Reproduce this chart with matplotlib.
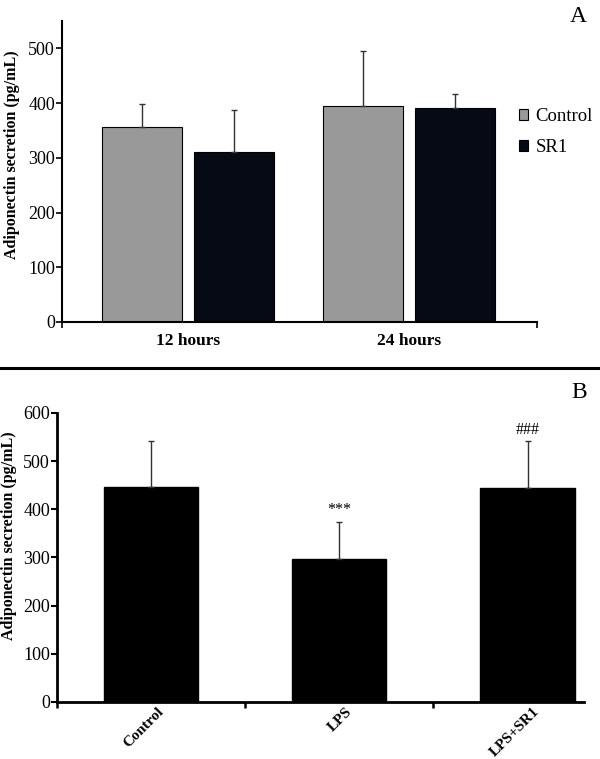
import matplotlib

matplotlib.use("Agg")

import matplotlib.pyplot as plt
import numpy as np
from matplotlib.lines import Line2D
from matplotlib.patches import Patch

# panel A
time_points = ["12 hours", "24 hours"]
control_mean = [356, 394]
control_err = [42, 101]
sr1_mean = [310, 391]
sr1_err = [77, 25]

# panel B
treatments = ["Control", "LPS", "LPS+SR1"]
treat_mean = [446, 297, 444]
treat_err = [95, 76, 97]
treat_marks = ["", "***", "###"]

plt.rcParams["font.family"] = ["Liberation Serif", "DejaVu Serif"]

fig = plt.figure(figsize=(6.0, 7.59), dpi=100)

err_kw = dict(ecolor="#333333", elinewidth=1.0, capsize=2.5, capthick=1.0)

# ---- panel A ----
ax_a = fig.add_axes([0.1033, 0.5758, 0.7917, 0.3965])
x = np.arange(len(time_points))
offset, width = 0.208, 0.362
ax_a.bar(x - offset, control_mean, width, color="#999999", edgecolor="black", linewidth=0.8,
         yerr=[np.zeros(len(x)), control_err], error_kw=err_kw, zorder=2)
ax_a.bar(x + offset, sr1_mean, width, color="#050a14", edgecolor="black", linewidth=0.8,
         yerr=[np.zeros(len(x)), sr1_err], error_kw=err_kw, zorder=2)
ax_a.set_xlim(-0.57, 1.58)
ax_a.set_ylim(0, 550)
ax_a.set_yticks(np.arange(0, 501, 100))
ax_a.set_xticks(x)
ax_a.set_xticklabels(time_points, fontsize=12.5, fontweight="bold")
ax_a.set_xticks([-0.57, 1.58], minor=True)
ax_a.tick_params(axis="x", which="major", length=0, pad=8)
ax_a.tick_params(axis="x", which="minor", length=4, width=1.2, direction="out")
ax_a.tick_params(axis="y", length=4, width=1.2, labelsize=13, pad=1)
ax_a.set_ylabel("Adiponectin secretion (pg/mL)", fontsize=11.5, fontweight="bold")
ax_a.yaxis.set_label_coords(-0.088, 0.555)
for side in ("top", "right"):
    ax_a.spines[side].set_visible(False)
for side in ("left", "bottom"):
    ax_a.spines[side].set_linewidth(1.5)

handles = [Patch(facecolor="#999999", edgecolor="black", linewidth=0.8, label="Control"),
           Patch(facecolor="#050a14", edgecolor="black", linewidth=0.8, label="SR1")]
fig.legend(handles=handles, loc="center left", bbox_to_anchor=(0.852, 1 - 132 / 759),
           frameon=False, fontsize=13.5, handlelength=0.5, handleheight=0.5,
           handletextpad=0.4, labelspacing=0.75, borderaxespad=0)
fig.text(0.978, 1 - 16 / 759, "A", fontsize=17, ha="right", va="center")

# separator between panels
fig.add_artist(Line2D([0, 1], [1 - 368 / 759] * 2, color="black", linewidth=2.2))

# ---- panel B ----
ax_b = fig.add_axes([0.095, 0.0751, 0.8783, 0.3808])
xb = np.arange(len(treatments))
ax_b.bar(xb, treat_mean, 0.5, color="black", edgecolor="black",
         yerr=[np.zeros(len(xb)), treat_err], error_kw=err_kw, zorder=2)
for xi, m, e, mark in zip(xb, treat_mean, treat_err, treat_marks):
    if mark:
        ax_b.text(xi, m + e + 8, mark, ha="center", va="bottom", fontsize=11.5)
ax_b.set_xlim(-0.5, 2.3)
ax_b.set_ylim(0, 600)
ax_b.set_yticks(np.arange(0, 601, 100))
ax_b.set_xticks([-0.5, 0.5, 1.5])
ax_b.set_xticklabels([])
ax_b.set_xticks(xb + 0.03, minor=True)
ax_b.set_xticklabels(treatments, minor=True, rotation=45, ha="right",
                     rotation_mode="anchor", fontsize=11, fontweight="bold")
ax_b.tick_params(axis="x", which="major", length=4, width=1.8, direction="out")
ax_b.tick_params(axis="x", which="minor", length=0, pad=2)
ax_b.tick_params(axis="y", length=4, width=1.5, labelsize=13, pad=1)
ax_b.set_ylabel("Adiponectin secretion (pg/mL)", fontsize=11.5, fontweight="bold")
ax_b.yaxis.set_label_coords(-0.076, 0.574)
for side in ("top", "right"):
    ax_b.spines[side].set_visible(False)
for side in ("left", "bottom"):
    ax_b.spines[side].set_linewidth(2.0)
fig.text(0.978, 1 - 392 / 759, "B", fontsize=17, ha="right", va="center")

fig.savefig("out.png", dpi=100)
